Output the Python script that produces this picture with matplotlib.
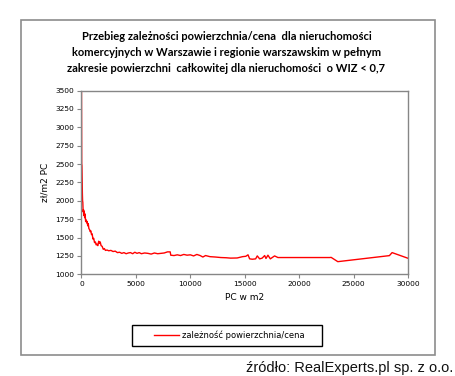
import matplotlib
matplotlib.use("Agg")
import matplotlib.pyplot as plt
from matplotlib.patches import Rectangle

pc_m2 = [0, 20, 40, 60, 80, 100, 120, 150, 180, 210, 250, 290, 330, 380, 420, 470, 520, 570, 620, 680,
         740, 800, 860, 920, 980, 1050, 1120, 1200, 1280, 1350, 1420, 1500, 1580, 1650, 1720, 1800, 1900,
         2000, 2100, 2200, 2350, 2500, 2700, 2900, 3100, 3300, 3500, 3700, 3900, 4100, 4300, 4500, 4700,
         4900, 5100, 5300, 5500, 5800, 6100, 6400, 6700, 7000, 7300, 7600, 7900, 8150, 8200, 8500, 8800,
         9100, 9400, 9700, 10000, 10300, 10600, 10900, 11150, 11400, 11800, 12300, 12800, 13300, 13700,
         14300, 14800, 15100, 15300, 15450, 15700, 16000, 16150, 16370, 16600, 16830, 16950, 17130, 17350,
         17740, 18050, 22800, 22940, 23550, 28290, 28540, 30000]
price = [3500, 2500, 2480, 2300, 2100, 2000, 1980, 1850, 1880, 1800, 1860, 1770, 1820, 1720, 1740, 1700,
         1720, 1660, 1690, 1620, 1610, 1580, 1590, 1540, 1550, 1480, 1490, 1430, 1440, 1400, 1410, 1390,
         1450, 1420, 1440, 1390, 1380, 1340, 1350, 1325, 1330, 1320, 1325, 1310, 1315, 1295, 1300, 1285,
         1295, 1280, 1290, 1295, 1280, 1300, 1285, 1295, 1280, 1290, 1285, 1275, 1290, 1280, 1285, 1290,
         1305, 1305, 1260, 1255, 1265, 1255, 1270, 1260, 1265, 1250, 1270, 1255, 1235, 1255, 1240, 1235,
         1228, 1225, 1220, 1222, 1240, 1245, 1265, 1210, 1205, 1210, 1250, 1210, 1220, 1255, 1215, 1260,
         1210, 1250, 1228, 1228, 1230, 1172, 1254, 1295, 1218]

x_ticks = [0, 5000, 10000, 15000, 20000, 25000, 30000]
y_ticks = [1000, 1250, 1500, 1750, 2000, 2250, 2500, 2750, 3000, 3250, 3500]

title_lines = ["Przebieg zależności powierzchnia/cena  dla nieruchomości",
               "komercyjnych w Warszawie i regionie warszawskim w pełnym",
               "zakresie powierzchni  całkowitej dla nieruchomości  o WIZ < 0,7"]
series_label = "zależność powierzchnia/cena"
x_label = "PC w m2"
y_label = "zł/m2 PC"
source = "źródło: RealExperts.pl sp. z o.o."

W, H = 456, 376
fig = plt.figure(figsize=(W / 100, H / 100), dpi=100)
fig.patch.set_facecolor("white")

# outer chart frame
fig.patches.append(Rectangle((21 / W, 1 - 355 / H), (435 - 21) / W, (355 - 20) / H,
                             transform=fig.transFigure, fill=False, edgecolor="#8c8c8c", lw=1.2))

ax = fig.add_axes([81.5 / W, 1 - 274.3 / H, (408 - 81.5) / W, (274.3 - 90.5) / H])
ax.plot(pc_m2, price, color="#ff0000", lw=1.0, label=series_label)
ax.set_xlim(0, 30000)
ax.set_ylim(1000, 3500)
ax.set_xticks(x_ticks)
ax.set_yticks(y_ticks)
for s in ax.spines.values():
    s.set_color("#868686")
    s.set_linewidth(1.0)
ax.tick_params(axis="both", direction="out", length=3, width=0.8, color="#868686",
               labelsize=5.4, labelcolor="black", pad=2)
ax.set_xlabel(x_label, fontsize=6.5, labelpad=4)
ax.set_ylabel(y_label, fontsize=6.5, labelpad=4)

title_y = [37, 53, 68]
for t, yy in zip(title_lines, title_y):
    fig.text(226.5 / W, 1 - yy / H, t, ha="center", va="center", fontsize=8,
             fontweight="bold", family="Lato")

# legend box
fig.patches.append(Rectangle((132 / W, 1 - 346 / H), (322 - 132) / W, (346 - 325) / H,
                             transform=fig.transFigure, fill=False, edgecolor="black", lw=1.0))
fig.legend(loc="center", bbox_to_anchor=(229 / W, 1 - 335.5 / H), frameon=False,
           fontsize=6.0, handlelength=3.0, handletextpad=0.4)

fig.text(453 / W, 1 - 368 / H, source, ha="right", va="center", fontsize=10.5,
         family="Liberation Sans", color="#111111")

fig.savefig("out.png", dpi=100)
